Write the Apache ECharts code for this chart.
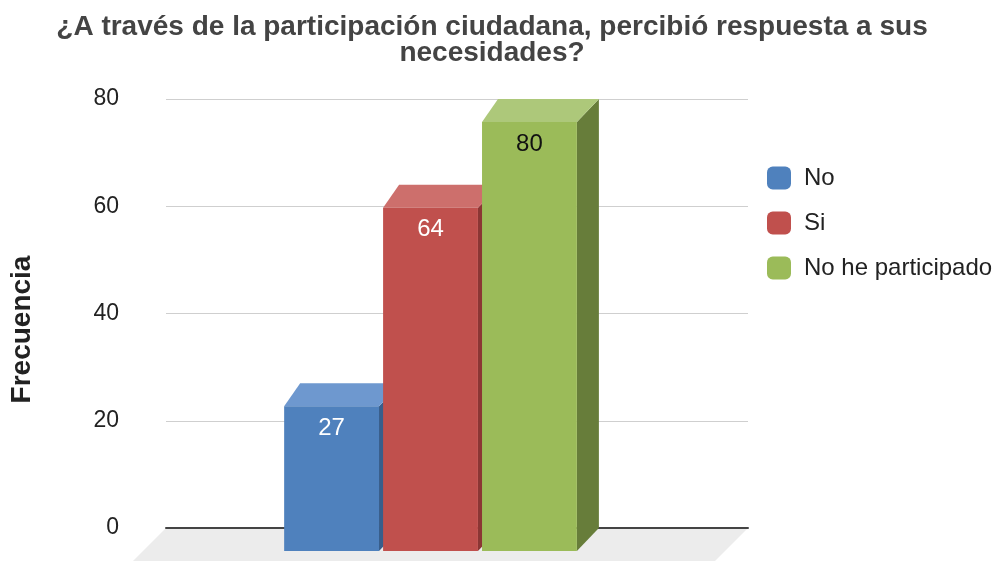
<!DOCTYPE html>
<html>
<head>
<meta charset="utf-8">
<title>Participación ciudadana</title>
<script src="https://cdn.jsdelivr.net/npm/echarts@6/dist/echarts.min.js"></script>
<style>
  html, body { margin: 0; padding: 0; background: #fff; }
  #chart { width: 997px; height: 561px; }
</style>
</head>
<body>
<div id="chart"></div>
<script>
// datos
const respuestas = ['No', 'Si', 'No he participado'];
const frecuencias = [27, 64, 80];
const yMin = 0;
const yMax = 80;
const yPaso = 20;

// colores de cada barra (cara frontal, superior, lateral, etiqueta)
const caras = [
  { front: '#4f81bd', top: '#6e98cf', side: '#385e8b', label: '#ffffff' },
  { front: '#c0504d', top: '#cd6f6c', side: '#8b3634', label: '#ffffff' },
  { front: '#9bbb59', top: '#adc87a', side: '#677d3a', label: '#111111' }
];
const fuente = '"Liberation Sans", Arial, Helvetica, sans-serif';

/* barra en 3D: cara trasera en el plano de la cuadricula, frente desplazado */
function barra3d(idx) {
  return function (params, api) {
    const v = api.value(1);
    const base = api.coord([0, 0]);
    const tope = api.coord([0, v]);
    const band = api.size([1, 0])[0];
    const w = band * 0.163;
    const left = base[0] - band * 0.297 + idx * band * 0.170;
    const dy = 23, dxL = 16, dxR = 22;
    const fTop = tope[1] + dy;
    const fBot = base[1] + dy;
    const c = caras[idx];
    return {
      type: 'group',
      children: [
        {
          type: 'polygon',
          shape: { points: [[left + w, fTop], [left + w + dxR, tope[1]], [left + w + dxR, base[1]], [left + w, fBot]] },
          style: { fill: c.side }
        },
        {
          type: 'polygon',
          shape: { points: [[left, fTop], [left + dxL, tope[1]], [left + w + dxR, tope[1]], [left + w, fTop]] },
          style: { fill: c.top }
        },
        {
          type: 'rect',
          shape: { x: left, y: fTop, width: w, height: fBot - fTop },
          style: { fill: c.front }
        },
        {
          type: 'text',
          x: left + w / 2,
          y: fTop + 22,
          style: {
            text: String(v),
            fill: c.label,
            font: '24px ' + fuente,
            align: 'center',
            verticalAlign: 'middle'
          }
        }
      ]
    };
  };
}

/* piso gris bajo el eje */
function piso(params, api) {
  const cs = params.coordSys;
  const y0 = cs.y + cs.height;
  const d = 45;
  return {
    type: 'polygon',
    shape: { points: [[cs.x, y0], [cs.x + cs.width, y0], [cs.x + cs.width - d, y0 + d], [cs.x - d, y0 + d]] },
    style: { fill: '#ececec' }
  };
}

const series = [{
  name: 'piso',
  type: 'custom',
  z: 0,
  silent: true,
  renderItem: piso,
  data: [[0, 0]]
}];
respuestas.forEach(function (r, i) {
  series.push({
    name: r,
    type: 'custom',
    z: 2,
    itemStyle: { color: caras[i].front },
    renderItem: barra3d(i),
    encode: { x: 0, y: 1 },
    data: [[0, frecuencias[i]]]
  });
});

const myChart = echarts.init(document.getElementById('chart'));
myChart.setOption({
  animation: false,
  textStyle: { fontFamily: fuente },
  title: {
    text: '¿A través de la participación ciudadana, percibió respuesta a sus\nnecesidades?',
    left: 487,
    top: 9,
    textAlign: 'center',
    textStyle: {
      fontFamily: fuente,
      fontSize: 28,
      fontWeight: 'bold',
      color: '#444444',
      lineHeight: 26
    }
  },
  legend: {
    data: respuestas,
    orient: 'vertical',
    left: 762,
    top: 161,
    icon: 'roundRect',
    itemWidth: 24,
    itemHeight: 23,
    itemGap: 21,
    textStyle: { fontFamily: fuente, fontSize: 24, color: '#222', padding: [0, 0, 0, 8] }
  },
  grid: {
    left: 166,
    right: 249,
    top: 99,
    bottom: 33
  },
  xAxis: {
    type: 'category',
    data: [''],
    z: 1,
    axisLine: { show: true, lineStyle: { color: '#444', width: 2 } },
    axisTick: { show: false },
    axisLabel: { show: false },
    splitLine: { show: false }
  },
  yAxis: {
    type: 'value',
    min: yMin,
    max: yMax,
    interval: yPaso,
    z: 1,
    name: 'Frecuencia',
    nameLocation: 'middle',
    nameRotate: 90,
    nameGap: 130,
    nameTextStyle: { fontFamily: fuente, fontSize: 28, fontWeight: 'bold', color: '#222', padding: [0, 32, 0, 0] },
    axisLine: { show: false },
    axisTick: { show: false },
    axisLabel: { fontFamily: fuente, fontSize: 23, color: '#222', margin: 47 },
    splitLine: { lineStyle: { color: '#cfcfcf', width: 1 } }
  },
  series: series
});
</script>
</body>
</html>
